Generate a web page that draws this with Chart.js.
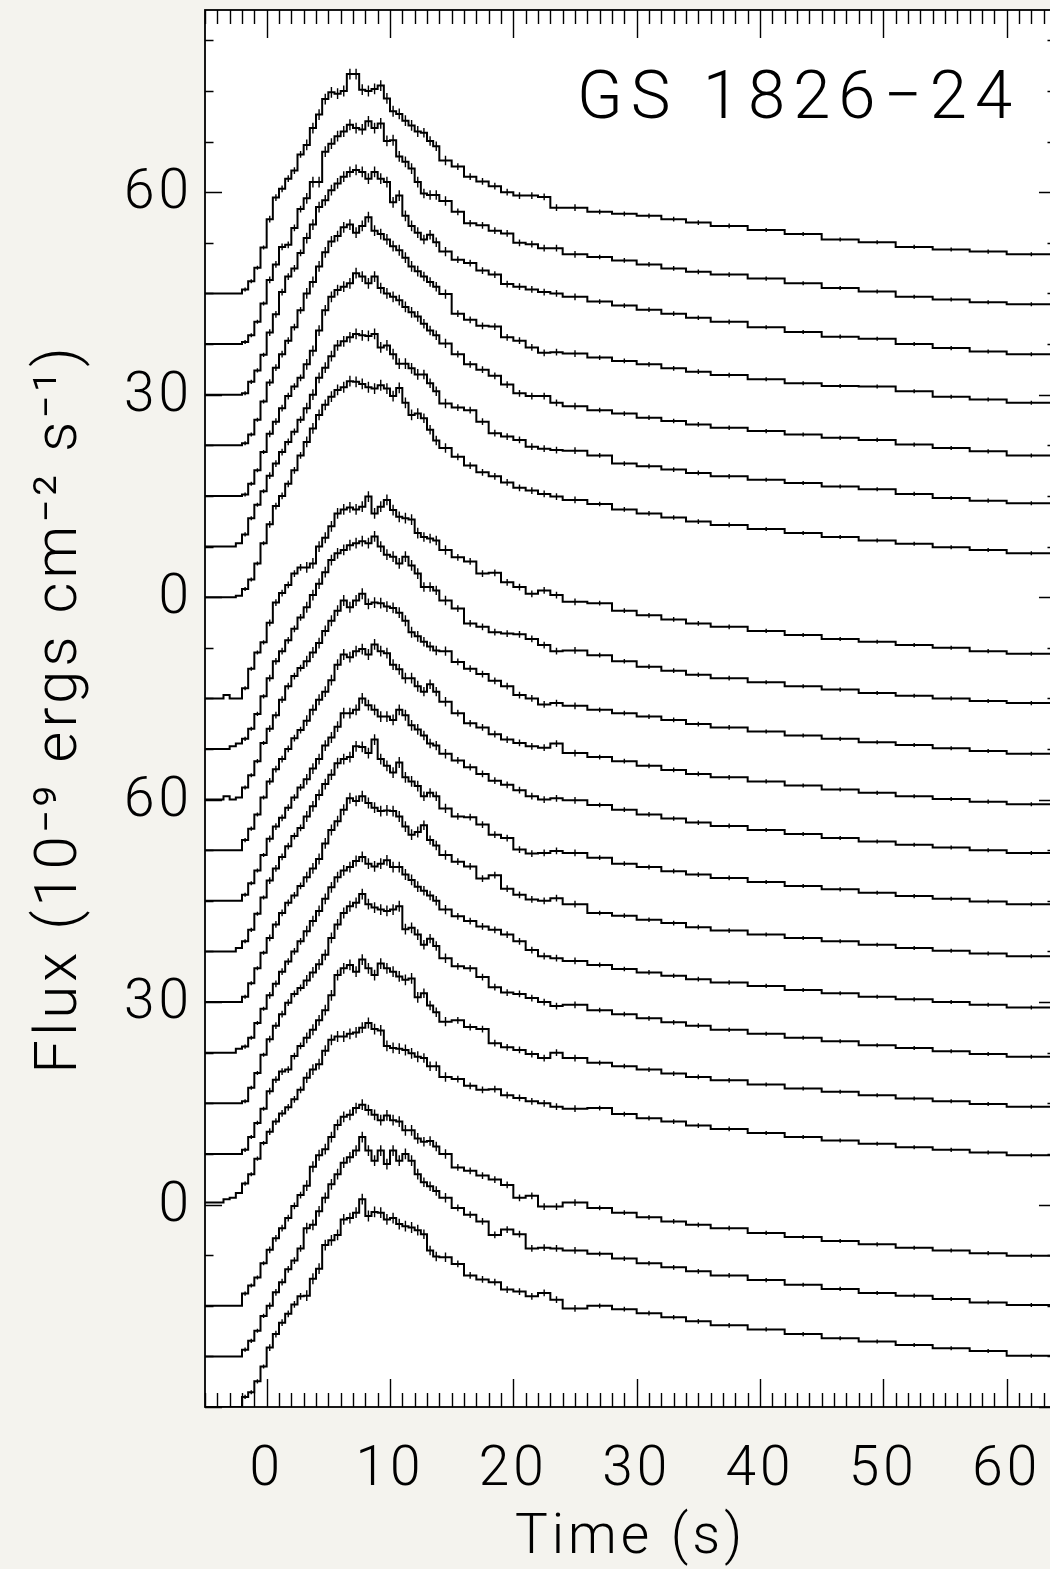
<!DOCTYPE html>
<html>
<head>
<meta charset="utf-8">
<script src="https://cdn.jsdelivr.net/npm/chart.js@4.4.1/dist/chart.umd.min.js"></script>
<style>
html,body{margin:0;padding:0;background:#f4f3ee;overflow:hidden;width:1050px;height:1569px;}
#wrap{position:absolute;left:0;top:0;width:1062px;height:1569px;}
canvas{display:block;}
</style>
</head>
<body>
<div id="wrap"><canvas id="c" width="1062" height="1569"></canvas></div>
<script>
// ---- data ----
const timeBins = [-5,-4,-3.5,-3,-2.5,-2,-1.5,-1,-0.5,0,0.5,1,1.5,2,2.5,3,3.5,4,4.5,5,5.5,6,6.5,7,7.5,8,8.5,9,9.5,10,10.5,11,11.5,12,12.5,13,13.5,14,15,16,17,18,19,20,21,22,23,24,26,28,30,32,34,36,39,42,45,48,51,54,57,60,64];
const burstOffsets = [135,127.5,120,112.5,105,97.5,90,75,67.5,60,52.5,45,37.5,30,22.5,15,7.5,0,-15,-22.5,-30];
const binErrors = [0,0,0,0,0, 0.3,0.3,0.3,0.3, 0.5,0.5,0.5,0.5,0.5,0.5, 0.8,0.8,0.8,0.8,0.8,0.8,0.8,0.8,0.8,0.8,0.8,0.8,0.8,0.8,0.8,0.8,0.8,0.8,0.8, 0.7,0.7,0.7,0.7, 0.5,0.5,0.5,0.5,0.5,0.5,0.5,0.5,0.5,0.5, 0.35,0.35,0.35,0.35,0.35,0.35, 0.3,0.3,0.3,0.3,0.3,0.3,0.3,0.3];

const burst01 = [0,0,0,0,0, 0.6,1.8,3.8,6.8, 11,14.2,15.5,17.0,18.2,20.6, 22,24.5,26.5,28.8,29.8,29.6,30.0,32.5,32.5,30.2,30.0,30.3,30.8,28.9,27.0,26.6,25.6,24.9,24.0, 23.8,22.6,21.8,19.7, 18.8,17.3,16.6,15.9,15.0,14.5,14.5,14.3,12.7,12.7, 12.1,11.8,11.5,11.0,10.5,10.0, 9.4,8.8,8.0,7.6,6.9,6.5,6.2,5.8];
const burst02 = [0,0,0,0,0, 0.3,1.3,3.3,6.0, 9.5,11.8,14.4,14.7,17.2,20.0, 21.6,24.0,24.0,28.5,29.7,30.8,31.5,32.5,32.0,31.8,33.0,32.0,32.7,30.1,30.2,27.8,27.0,26.0,24.0, 22.3,22.1,22.1,21.2, 19.6,17.9,17.6,16.8,16.4,15.0,14.8,14.2,14.2,13.3, 12.9,12.4,11.8,11.2,10.7,10.3, 9.7,9.0,8.3,7.8,7.0,6.6,6.2,5.9];
const burst03 = [0,0,0,0,0, 0.2,1.9,3.6,5.9, 9.2,11.9,15.2,17.5,18.7,21.0, 23.2,25.2,27.8,28.8,30.3,31.3,32.3,33.0,33.3,33.0,32.0,33.0,32.0,31.5,28.5,29.5,26.5,25.0,24.0, 23.0,23.7,22.6,21.2, 20.0,19.5,18.4,17.8,16.4,16.0,15.6,15.2,15.0,14.5, 13.8,13.2,12.6,12.0,11.4,10.8, 10.0,9.3,8.6,8.3,7.5,6.9,6.4,6.0];
const burst04 = [0,0,0,0,0, 0.3,1.6,3.8,6.5, 9.3,11.5,13.5,15.5,17.5,20.0, 22.5,24.2,26.5,28.6,30.2,31.0,32.3,32.7,31.5,32.5,33.8,31.8,31.3,30.5,29.5,28.9,27.8,26.5,25.8, 25.0,24.2,23.5,22.4, 19.5,18.6,17.7,17.6,16.0,15.5,14.5,13.7,13.8,13.6, 13.0,12.5,12.0,11.4,10.9,10.4, 9.8,9.2,8.8,8.7,8.0,7.2,6.8,6.3];
const burst05 = [0,0,0,0,0, 0.2,1.8,3.8,6.5, 9.2,11.0,13.0,14.8,16.2,17.5, 19.5,21.5,24.5,27.5,29.5,30.5,31.0,31.5,33.0,32.5,31.5,32.5,30.8,30.0,29.5,29.0,28.0,27.2,26.6, 25.5,24.5,23.8,22.6, 21.0,19.5,18.7,17.8,16.5,15.2,14.8,14.8,13.8,13.3, 12.7,12.2,11.6,11.1,10.6,10.1, 9.6,9.1,8.6,8.3,7.6,7.1,6.6,6.0];
const burst06 = [0,0,0,0,0.5, 1.8,4.2,6.2,8.2, 10.5,12.3,14.0,15.5,17.0,18.8, 20.5,22.5,25.0,26.5,28.2,29.8,30.4,31.0,31.5,31.3,31.2,31.5,29.5,29.8,28.5,27.1,27.1,26.4,25.5, 25.5,24.2,23.0,21.2, 20.6,20.2,18.5,16.8,16.3,15.8,14.8,14.5,14.3,14.2, 13.5,12.3,11.9,11.4,10.9,10.4, 9.9,9.4,8.9,8.5,7.8,7.2,6.8,6.4];
const burst07 = [0,0,0,0,0.2, 1.2,2.6,5.0,8.0, 10.8,13.5,15.0,16.8,18.8,21.0, 23.0,25.0,27.0,28.5,29.7,30.7,31.1,32.0,31.9,31.6,31.1,30.9,31.4,30.9,29.8,31.0,28.8,27.0,27.2, 26.5,24.8,23.2,22.1, 20.8,19.5,18.5,17.9,17.0,16.2,15.8,15.3,14.9,14.4, 13.8,13.0,12.4,11.8,11.2,10.7, 10.1,9.5,8.9,8.4,7.9,7.4,7.0,6.5];
const burst08 = [0,0,0.5,0,0, 1.5,4.4,6.8,8.3, 11.2,14.2,15.6,16.8,18.5,19.4, 19.4,20.0,22.5,23.8,25.5,27.4,28.0,28.3,28.0,28.4,29.9,27.4,28.4,29.4,27.9,26.9,26.7,26.5,24.5, 23.9,23.7,23.4,22.0, 20.9,20.3,18.5,18.6,17.2,16.5,15.5,16.0,15.3,14.3, 14.1,13.0,12.3,11.7,11.1,10.6, 10.0,9.4,8.8,8.4,7.9,7.5,7.0,6.6];
const burst09 = [0,0,0,0.4,0.8, 1.5,3.0,5.2,7.8, 10.5,13.0,14.5,16.1,17.8,19.5, 21.0,22.8,24.5,26.2,28.0,29.0,29.5,30.2,30.5,30.8,30.5,31.5,30.0,28.8,28.5,27.5,28.5,27.2,26.0, 24.0,24.0,23.5,22.0, 20.8,18.6,18.1,17.3,17.1,17.0,16.3,15.4,14.5,14.6, 13.9,13.0,12.2,11.6,11.0,10.5, 9.9,9.3,8.8,8.3,7.9,7.5,7.1,6.8];
const burst10 = [0,0,0.5,0,0.3, 1.8,3.6,5.7,8.4, 10.5,12.5,14.8,16.8,18.3,19.5, 20.5,21.8,23.2,25.0,26.5,28.0,29.5,28.5,29.5,30.5,29.0,29.2,29.1,28.6,28.4,27.7,26.5,24.8,24.2, 23.4,22.7,22.1,22.0, 20.4,19.4,18.6,17.6,16.8,15.5,15.0,14.1,14.3,13.9, 13.3,12.8,12.3,11.8,11.2,10.7, 10.1,9.5,9.0,8.5,8.1,7.6,7.2,6.8];
const burst11 = [0,0,0,0,0, 1.5,3.2,5.3,7.8, 10.2,12.0,13.5,15.0,16.6,17.8, 19.2,20.8,22.3,23.5,25.2,27.5,29.0,28.6,29.5,29.8,29.0,30.5,29.5,29.2,27.5,26.8,25.5,25.5,24.3, 23.5,24.6,23.5,22.0, 20.3,18.8,18.2,17.2,16.4,15.9,15.4,15.2,15.8,14.4, 13.8,13.2,12.5,11.9,11.3,10.8, 10.2,9.6,9.0,8.5,8.0,7.6,7.2,6.8];
const burst12 = [0,0,0,0,0, 0.9,2.6,4.5,6.8, 9.2,11.0,12.3,13.8,15.3,16.8, 18.0,19.6,21.0,23.0,24.2,25.8,27.8,27.8,28.3,30.0,29.0,28.3,27.3,27.3,26.8,28.3,27.5,26.0,25.4, 24.5,23.3,23.0,21.8, 20.8,19.8,18.8,17.8,17.2,16.4,15.5,15.0,15.2,14.9, 14.2,13.5,12.8,12.2,11.6,11.1, 10.5,9.9,9.3,8.8,8.3,7.9,7.5,7.1];
const burst13 = [0,0,0,0,0.5, 1.5,3.2,5.6,8.0, 10.5,12.3,14.0,15.6,17.1,18.3, 20.0,21.5,23.2,24.8,26.2,27.9,28.5,28.8,30.4,30.3,29.4,31.4,28.5,27.5,26.5,28.0,25.8,25.2,24.5, 23.0,23.5,23.0,21.2, 20.0,19.9,18.8,17.3,16.8,15.1,14.5,14.6,14.9,14.6, 13.9,13.0,12.5,11.9,11.4,10.9, 10.3,9.7,9.2,8.7,8.2,7.8,7.4,7.0];
const burst14 = [0,0,0,0,0, 0.8,2.8,5.0,7.3, 9.5,11.5,13.2,14.7,15.8,17.2, 18.5,19.8,21.2,23.5,25.5,26.8,28.5,30.2,29.8,30.5,29.5,28.8,28.3,28.4,28.3,27.5,26.0,24.8,25.2, 26.2,24.0,23.2,21.8, 20.8,20.1,18.3,18.8,16.8,15.9,15.2,15.0,15.4,14.5, 13.2,12.8,12.2,11.7,11.1,10.6, 10.0,9.5,9.0,8.5,8.0,7.6,7.2,6.8];
const burst15 = [0,0,0,0,0.6, 0.9,2.2,4.4,6.5, 8.5,10.2,12.0,13.5,15.0,16.5, 18.0,19.5,21.0,22.8,24.5,26.0,27.0,27.5,28.4,29.0,28.0,27.6,28.0,28.5,27.5,27.5,26.4,25.6,24.6, 24.0,23.3,22.5,21.2, 20.2,19.5,18.7,18.2,17.5,16.5,15.2,14.3,14.0,13.6, 13.0,12.4,11.9,11.4,10.9,10.4, 9.9,9.3,8.8,8.3,7.9,7.5,7.1,6.7];
const burst16 = [0,0,0,0,0, 0.3,2.3,4.5,7.2, 9.5,11.5,13.2,14.9,16.2,17.1, 18.2,19.4,20.6,22.0,24.5,26.5,28.2,29.2,29.7,31.0,29.5,29.0,28.7,28.5,28.7,29.2,25.8,26.0,25.0, 23.5,24.4,23.3,21.5, 20.3,20.0,18.7,17.2,16.4,16.2,15.6,15.0,14.4,14.6, 13.8,13.2,12.6,12.0,11.5,10.9, 10.3,9.7,9.2,8.6,8.2,7.7,7.3,6.9];
const burst17 = [0,0,0,0,0, 0.6,2.5,4.6,6.7, 9.3,11.0,12.2,12.5,14.5,16.0, 17.2,18.4,19.8,21.3,23.5,26.5,27.5,28.0,27.0,28.8,27.5,26.5,28.2,27.5,27.0,26.3,25.8,26.0,23.2, 23.8,22.0,21.0,19.6, 19.8,18.8,18.5,16.4,15.8,15.4,14.8,14.2,15.0,14.2, 13.5,13.0,12.5,11.9,11.4,10.9, 10.3,9.7,9.2,8.7,8.2,7.8,7.4,7.0];
const burst18 = [0.3,0.3,0.8,1.0,1.7, 3.1,4.5,6.8,9.1, 10.8,12.3,13.5,14.4,15.6,17.0, 18.8,20.0,20.8,22.8,24.4,24.9,24.9,25.3,25.5,26.2,26.9,26.0,25.8,23.5,23.2,23.1,22.9,22.4,21.9, 21.7,20.5,20.5,18.9, 18.6,17.6,17.0,17.1,16.2,15.8,15.3,15.0,14.5,14.2, 14.3,13.4,12.8,12.3,11.7,11.2, 10.6,10.0,9.5,9.0,8.5,8.1,7.7,7.3];
const burst19 = [0,0,0,0,0, 1.8,3.0,4.2,6.3, 8.3,10.0,11.5,13.0,14.8,16.4, 17.8,20.6,22.3,23.2,25.0,26.8,28.0,28.3,29.3,29.8,29.0,28.3,27.5,28.2,27.5,27.3,26.0,26.0,24.8, 24.3,24.4,23.6,22.5, 20.5,20.0,19.3,18.7,17.9,16.0,16.3,14.7,14.7,15.3, 14.5,13.8,13.1,12.5,12.0,11.5, 10.8,10.2,9.6,9.1,8.6,8.2,7.8,7.4];
const burst20 = [0,0,0,0,0, 1.0,2.3,3.8,6.0, 7.5,9.5,11.0,12.9,14.2,16.0, 19.0,19.5,21.5,23.5,25.5,27.0,28.7,29.5,30.5,32.5,30.5,29.0,30.5,28.5,30.5,29.0,30.0,29.0,27.0, 25.8,25.2,24.5,23.5, 22.0,21.0,20.0,18.0,18.8,18.1,16.0,16.1,16.0,15.7, 15.2,14.5,13.8,13.2,12.6,12.0, 11.3,10.6,10.0,9.4,9.0,8.5,8.0,7.6];
const burst21 = [0,0,0,0,0, 1.5,2.2,3.8,6.0, 8.8,10.8,12.5,13.8,15.2,16.4, 16.5,19.0,20.5,24.0,24.7,25.5,27.8,28.0,28.8,30.8,28.3,28.9,28.8,27.8,28.0,27.1,26.8,26.6,26.2, 25.6,23.2,22.3,22.2, 21.2,19.5,18.9,18.5,17.4,17.1,16.4,16.9,15.9,14.6, 15.0,14.5,13.9,13.3,12.7,12.1, 11.5,10.8,10.2,9.7,9.2,8.7,8.3,7.6];

const xTickValues = [0,10,20,30,40,50,60];
const yTickValues = [0,30,60,90,120,150];
const yTickLabels = ['0','30','60','0','30','60'];
const xMinorStep = 1;
const yMinorStep = 7.5;
const xTitle = 'Time (s)';
const yTitle = 'Flux (10\u207B\u2079 ergs cm\u207B\u00B2 s\u207B\u00B9)';
const sourceName = 'GS 1826\u221224';

// ---- chart ----
const FONT = "'DejaVu Sans ExtraLight', 'Roboto Light', 'Lato Light', 'Open Sans Light', 'Inter', 'Roboto', 'DejaVu Sans', sans-serif";
const W = '300';
const bursts = [burst01,burst02,burst03,burst04,burst05,burst06,burst07,burst08,burst09,burst10,burst11,burst12,burst13,burst14,burst15,burst16,burst17,burst18,burst19,burst20,burst21];

const datasets = [];
bursts.forEach((vals, k) => {
  const off = burstOffsets[k];
  const pts = vals.map((v, i) => ({x: timeBins[i], y: off + v}));
  pts.push({x: timeBins[timeBins.length - 1], y: off + vals[vals.length - 1]});
  datasets.push({data: pts, stepped: 'before', borderColor: '#000', borderWidth: 2, pointRadius: 0, fill: false});
  const eb = [];
  vals.forEach((v, i) => {
    const e = binErrors[i];
    if (!e || v === 0) return;
    const xc = (timeBins[i] + timeBins[i + 1]) / 2;
    eb.push({x: xc, y: off + v - e}, {x: xc, y: off + v + e}, {x: xc, y: null});
  });
  datasets.push({data: eb, borderColor: '#000', borderWidth: 1.4, pointRadius: 0, fill: false, spanGaps: false});
});

const framePlugin = {
  id: 'frame',
  beforeDraw(chart) {
    const {ctx, chartArea: a} = chart;
    ctx.save();
    ctx.fillStyle = '#ffffff';
    ctx.fillRect(a.left, a.top, a.right - a.left, a.bottom - a.top);
    ctx.restore();
    ctx.letterSpacing = '4px';
  },
  afterDatasetsDraw(chart) {
    const {ctx, chartArea: a, scales: {x, y}} = chart;
    const h = a.bottom - a.top, w = a.right - a.left;
    ctx.save();
    ctx.strokeStyle = '#000';
    ctx.lineWidth = 1.4;
    ctx.beginPath();
    for (let v = Math.ceil(x.min); v <= x.max; v += xMinorStep) {
      const px = Math.round(x.getPixelForValue(v)) + 0.5;
      const L = xTickValues.includes(v) ? 0.02 * h : 0.01 * h;
      ctx.moveTo(px, a.bottom); ctx.lineTo(px, a.bottom - L);
      ctx.moveTo(px, a.top); ctx.lineTo(px, a.top + L);
    }
    for (let v = y.min; v <= y.max + 1e-6; v += yMinorStep) {
      const py = Math.round(y.getPixelForValue(v)) + 0.5;
      const L = (Math.abs(v % 30) < 1e-6) ? 0.02 * w : 0.01 * w;
      ctx.moveTo(a.left, py); ctx.lineTo(a.left + L, py);
      ctx.moveTo(a.right, py); ctx.lineTo(a.right - L, py);
    }
    ctx.stroke();
    ctx.lineWidth = 1.8;
    ctx.strokeRect(a.left, a.top, w, h);
    ctx.restore();
  },
  afterDraw(chart) {
    const {ctx, chartArea: a} = chart;
    ctx.save();
    ctx.fillStyle = '#000';
    ctx.letterSpacing = '8px';
    ctx.font = W + " 67px " + FONT;
    ctx.textAlign = 'left';
    ctx.textBaseline = 'alphabetic';
    ctx.fillText(sourceName, a.right - 479, a.top + 108);
    ctx.restore();
  }
};

Chart.defaults.color = '#000';
Chart.defaults.font.family = FONT;

function fixX(s) { s.height = 162; s.paddingLeft = 0; s.paddingRight = 0; s.paddingTop = 0; s.paddingBottom = 0; }
function fixY(s) { s.width = 205; s.paddingLeft = 0; s.paddingRight = 0; s.paddingTop = 0; s.paddingBottom = 0; }

new Chart(document.getElementById('c'), {
  type: 'line',
  data: {datasets},
  options: {
    responsive: false,
    maintainAspectRatio: false,
    devicePixelRatio: 1,
    animation: false,
    events: [],
    layout: {padding: {top: 10, right: 6, left: 0, bottom: 0}},
    plugins: {legend: {display: false}, tooltip: {enabled: false}},
    scales: {
      x: {
        type: 'linear', min: -5, max: 64,
        afterBuildTicks: s => { s.ticks = xTickValues.map(v => ({value: v})); },
        afterFit: fixX,
        grid: {display: false, drawTicks: false},
        border: {display: false},
        ticks: {padding: 34, maxRotation: 0, autoSkip: false, color: '#000',
                font: {family: FONT, size: 55, weight: W, lineHeight: 1}},
        title: {display: true, text: xTitle, color: '#000',
                font: {family: FONT, size: 55, weight: W, lineHeight: 1},
                padding: {top: 0, bottom: 5}}
      },
      y: {
        type: 'linear', min: -30, max: 177,
        afterBuildTicks: s => { s.ticks = yTickValues.map(v => ({value: v})); },
        afterFit: fixY,
        grid: {display: false, drawTicks: false},
        border: {display: false},
        ticks: {padding: 12, autoSkip: false, color: '#000',
                font: {family: FONT, size: 55, weight: W, lineHeight: 1},
                callback: (v) => { const i = yTickValues.indexOf(v); return i >= 0 ? yTickLabels[i] : ''; }},
        title: {display: true, text: yTitle, color: '#000',
                font: {family: FONT, size: 60, weight: W, lineHeight: 1},
                padding: {top: 28, bottom: 0}}
      }
    }
  },
  plugins: [framePlugin]
});
</script>
</body>
</html>
